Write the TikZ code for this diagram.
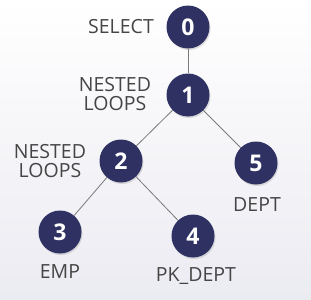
\documentclass[tikz,border=0pt]{standalone}
\usepackage{fontspec}
\setmainfont{Open Sans}
\usetikzlibrary{shadows}
\definecolor{navy}{HTML}{2E3162}
\definecolor{lbl}{HTML}{454545}
\definecolor{edge}{HTML}{7A7A7A}
\definecolor{bgbot}{HTML}{EBEBF2}
\begin{document}
\begin{tikzpicture}[x=1pt,y=-1pt,
  opnode/.style={circle,fill=navy,minimum size=43pt,inner sep=0pt,text=white,font=\fontsize{23}{25}\selectfont\bfseries,
    drop shadow={opacity=0.25,shadow xshift=1pt,shadow yshift=-1.5pt}},
  lab/.style={text=lbl,font=\fontsize{19.5}{22}\selectfont,inner sep=0pt,align=center},
  conn/.style={draw=edge,line width=0.8pt}]
\shade[top color=white,bottom color=bgbot] (0,0) rectangle (311,300);
\useasboundingbox (0,0) rectangle (311,300);
\node[opnode] (n0) at (188,27) {0};
\node[opnode] (n1) at (188,95) {1};
\node[opnode] (n2) at (121,161) {2};
\node[opnode] (n5) at (256,163) {5};
\node[opnode] (n3) at (60,232) {3};
\node[opnode] (n4) at (193,236) {4};
\draw[conn] (n0) -- (n1);
\draw[conn] (n1) -- (n2);
\draw[conn] (n1) -- (n5);
\draw[conn] (n2) -- (n3);
\draw[conn] (n2) -- (n4);
\node[lab,anchor=east] (l0) at (154,27) {SELECT};
\node[lab] (l1) at (115,94) {NESTED\\[-3pt]LOOPS};
\node[lab] (l2) at (50,161) {NESTED\\[-3pt]LOOPS};
\node[lab] (l5) at (257,205) {DEPT};
\node[lab] (l3) at (60,272) {EMP};
\node[lab] (l4) at (196,276) {PK\_DEPT};
\end{tikzpicture}
\end{document}
